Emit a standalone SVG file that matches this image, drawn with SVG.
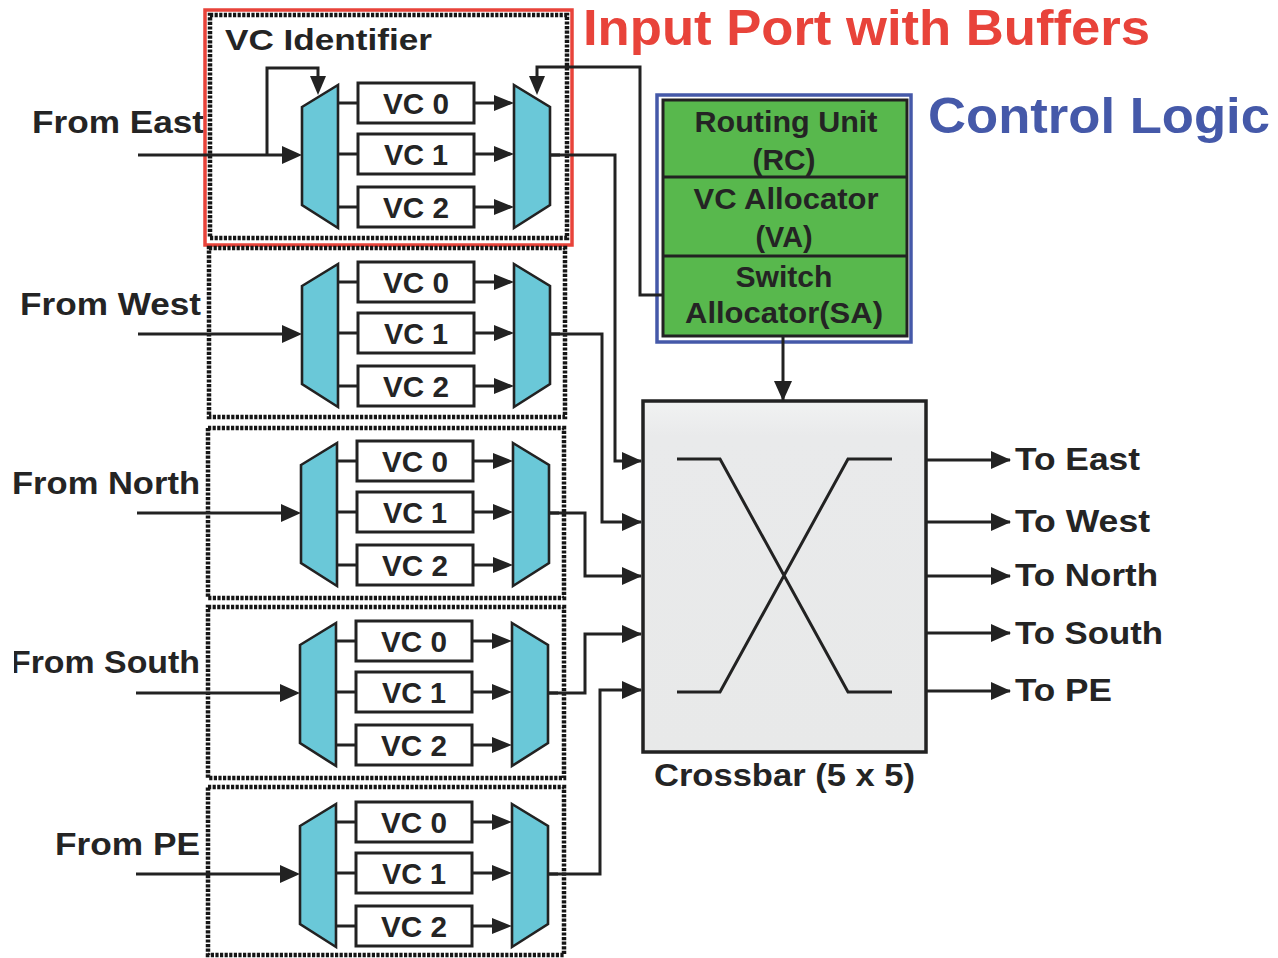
<svg xmlns="http://www.w3.org/2000/svg" width="1278" height="958" viewBox="0 0 1278 958">
<style>
text{font-family:"Liberation Sans",Arial,sans-serif;font-weight:bold;fill:#242424}
.lbl{font-size:32px}
.vct{font-size:30px;text-anchor:middle}
.port{fill:none;stroke:#151515;stroke-width:4.5;stroke-dasharray:3.2 1.4}
.mux{fill:#6ac8d8;stroke:#222;stroke-width:2.6;stroke-linejoin:miter}
.vc{fill:#fff;stroke:#222;stroke-width:3}
.w{fill:none;stroke:#222;stroke-width:3}
.wa{fill:none;stroke:#222;stroke-width:3;marker-end:url(#ah)}
.cl{font-size:29px;text-anchor:middle}
</style>
<defs>
<marker id="ah" markerUnits="userSpaceOnUse" markerWidth="20" markerHeight="18" refX="19" refY="9" orient="auto">
<path d="M0,0 L20,9 L0,18 z" fill="#222"/>
</marker>
<linearGradient id="xg" x1="0" y1="0" x2="0" y2="1">
<stop offset="0" stop-color="#f1f2f2"/>
<stop offset="0.1" stop-color="#e9eaeb"/>
<stop offset="1" stop-color="#e8e9e9"/>
</linearGradient>
<clipPath id="cutF"><rect x="14" y="630" width="200" height="60"/></clipPath>
<g id="vcport">
<polygon class="mux" points="302,4 338,-18 338,125 302,102"/>
<polygon class="mux" points="514,-18 550,4 550,102 514,125"/>
<path class="w" d="M338,0 H358 M338,51 H358 M338,104 H358 M138,52 H286 M550,52 H560"/>
<path d="M474,0 H496 M474,51 H496 M474,104 H496" class="w"/>
<path d="M494,-8 L514,0 L494,8 z M494,43 L514,51 L494,59 z M494,96 L514,104 L494,112 z M282,43 L302,52 L282,61 z" fill="#222"/>
<rect class="vc" x="358" y="-20" width="116" height="40"/>
<rect class="vc" x="358" y="31" width="116" height="40"/>
<rect class="vc" x="358" y="84" width="116" height="40"/>
<text class="vct" x="416" y="11" textLength="66" lengthAdjust="spacingAndGlyphs">VC 0</text>
<text class="vct" x="416" y="62" textLength="64" lengthAdjust="spacingAndGlyphs">VC 1</text>
<text class="vct" x="416" y="115" textLength="66" lengthAdjust="spacingAndGlyphs">VC 2</text>
</g>
</defs>

<g id="title-input">
<text x="583" y="45" font-size="50" textLength="567" lengthAdjust="spacingAndGlyphs" style="fill:#e8433a">Input Port with Buffers</text>
</g>
<g id="title-control">
<text x="928" y="133" font-size="50" textLength="342" lengthAdjust="spacingAndGlyphs" style="fill:#4559a9">Control Logic</text>
</g>

<g id="labels-in">
<text class="lbl" x="32" y="133" textLength="172" lengthAdjust="spacingAndGlyphs">From East</text>
<text class="lbl" x="20" y="315" textLength="181" lengthAdjust="spacingAndGlyphs">From West</text>
<text class="lbl" x="12" y="494" textLength="188" lengthAdjust="spacingAndGlyphs">From North</text>
<text class="lbl" x="10" y="673" textLength="190" lengthAdjust="spacingAndGlyphs" clip-path="url(#cutF)">From South</text>
<text class="lbl" x="55" y="855" textLength="145" lengthAdjust="spacingAndGlyphs">From PE</text>
</g>

<g id="port-east">
<rect x="205" y="10" width="367" height="235" fill="none" stroke="#e8433a" stroke-width="3.5"/>
<rect class="port" x="210" y="15" width="357" height="223"/>
<text x="225" y="50" font-size="30" textLength="207" lengthAdjust="spacingAndGlyphs">VC Identifier</text>
<use href="#vcport" transform="translate(0,103)"/>
</g>
<g id="port-west">
<rect class="port" x="209" y="248" width="356" height="169"/>
<use href="#vcport" transform="translate(0,282)"/>
</g>
<g id="port-north">
<rect class="port" x="208" y="428" width="356" height="170"/>
<use href="#vcport" transform="translate(-1,461)"/>
</g>
<g id="port-south">
<rect class="port" x="208" y="607" width="356" height="171"/>
<use href="#vcport" transform="translate(-2,641)"/>
</g>
<g id="port-pe">
<rect class="port" x="208" y="787" width="356" height="168"/>
<use href="#vcport" transform="translate(-2,822)"/>
</g>

<g id="control-logic">
<rect x="657" y="95" width="254" height="247" fill="none" stroke="#4559a9" stroke-width="3.5"/>
<rect x="663" y="100" width="244" height="236" fill="#58b84d" stroke="#222" stroke-width="3"/>
<path d="M663,177 H907 M663,256 H907" stroke="#222" stroke-width="3"/>
<text class="cl" x="786" y="132" textLength="183" lengthAdjust="spacingAndGlyphs">Routing Unit</text>
<text class="cl" x="784" y="170" textLength="63" lengthAdjust="spacingAndGlyphs">(RC)</text>
<text class="cl" x="786" y="209" textLength="185" lengthAdjust="spacingAndGlyphs">VC Allocator</text>
<text class="cl" x="784" y="247" textLength="57" lengthAdjust="spacingAndGlyphs">(VA)</text>
<text class="cl" x="784" y="287" textLength="97" lengthAdjust="spacingAndGlyphs">Switch</text>
<text class="cl" x="784" y="323" textLength="198" lengthAdjust="spacingAndGlyphs">Allocator(SA)</text>
</g>

<g id="crossbar">
<rect x="643" y="401" width="283" height="351" fill="url(#xg)" stroke="#222" stroke-width="3.5"/>
<path d="M677,459 H720 L848,692 H892 M677,692 H720 L848,459 H892" fill="none" stroke="#222" stroke-width="3"/>
<text x="654" y="786" font-size="31" textLength="261" lengthAdjust="spacingAndGlyphs">Crossbar (5 x 5)</text>
</g>

<g id="labels-out">
<text class="lbl" x="1015" y="470" textLength="125" lengthAdjust="spacingAndGlyphs">To East</text>
<text class="lbl" x="1015" y="532" textLength="135" lengthAdjust="spacingAndGlyphs">To West</text>
<text class="lbl" x="1015" y="586" textLength="143" lengthAdjust="spacingAndGlyphs">To North</text>
<text class="lbl" x="1015" y="644" textLength="148" lengthAdjust="spacingAndGlyphs">To South</text>
<text class="lbl" x="1015" y="701" textLength="97" lengthAdjust="spacingAndGlyphs">To PE</text>
</g>

<g id="connectors">
<path class="w" d="M267,155 V68 H318 V80"/>
<path d="M310,76 L318,95 L326,76 z" fill="#222"/>
<path class="w" d="M663,295 H640 V67 H537 V80"/>
<path d="M529,76 L537,95 L545,76 z" fill="#222"/>
<path class="wa" d="M550,155 H615 V461 H641"/>
<path class="wa" d="M550,334 H602 V522 H641"/>
<path class="wa" d="M548,513 H585 V576 H641"/>
<path class="wa" d="M548,693 H585 V634 H641"/>
<path class="wa" d="M548,874 H600 V690 H641"/>
<path class="wa" d="M783,336 V400"/>
<path class="wa" d="M926,460 H1010"/>
<path class="wa" d="M926,522 H1010"/>
<path class="wa" d="M926,576 H1010"/>
<path class="wa" d="M926,633 H1010"/>
<path class="wa" d="M926,691 H1010"/>
</g>
</svg>
